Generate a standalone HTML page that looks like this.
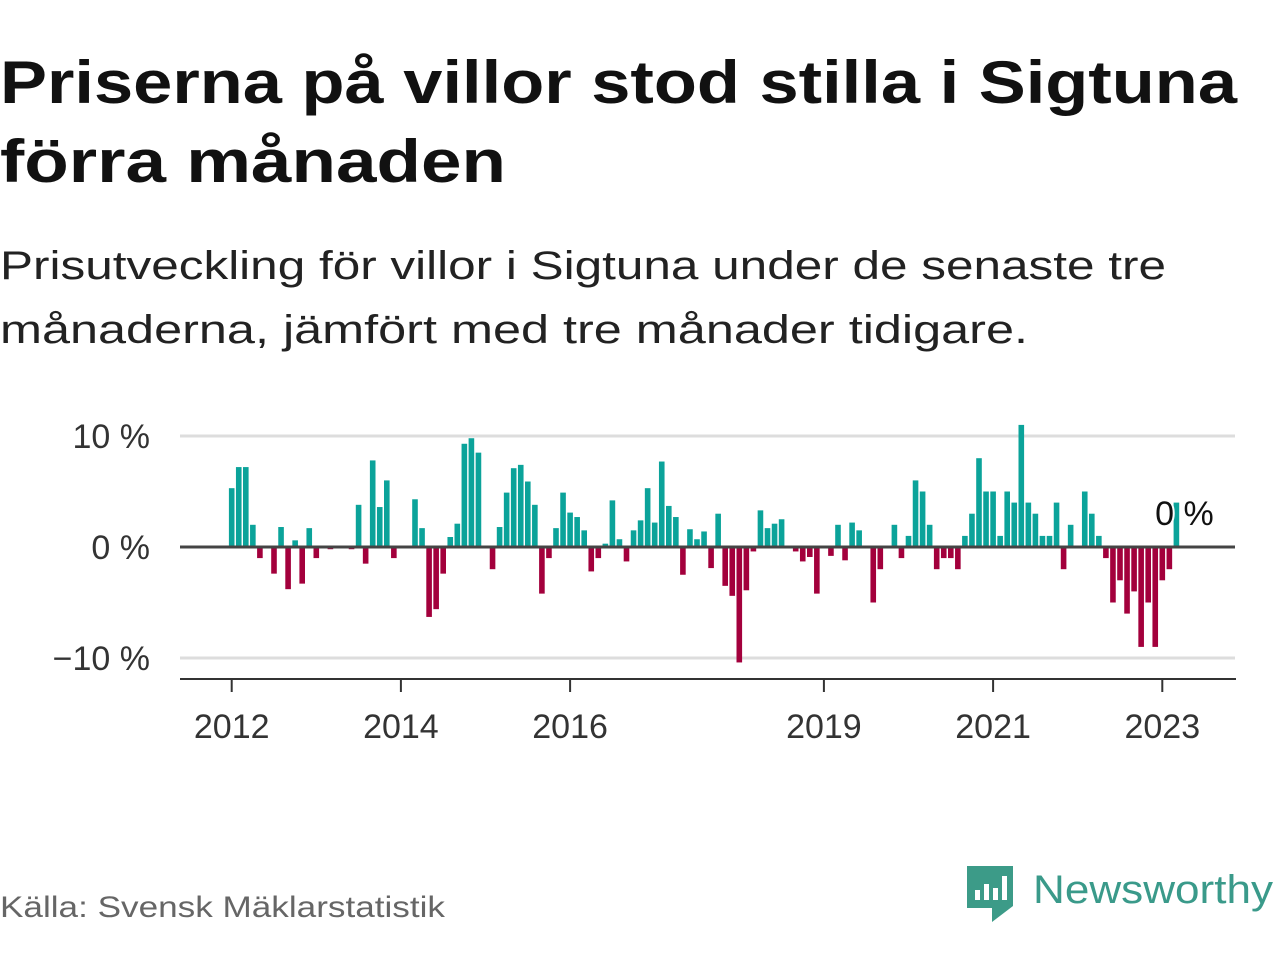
<!DOCTYPE html>
<html><head><meta charset="utf-8"><style>
html,body{margin:0;padding:0;background:#fff;}
svg{display:block;font-family:"Liberation Sans",sans-serif;}
</style></head><body>
<svg id="chart" width="1280" height="960" viewBox="0 0 1280 960">
<text x="0" y="103" font-size="60" font-weight="bold" fill="#111" textLength="1237" lengthAdjust="spacingAndGlyphs">Priserna på villor stod stilla i Sigtuna</text>
<text x="0" y="182" font-size="60" font-weight="bold" fill="#111" textLength="506" lengthAdjust="spacingAndGlyphs">förra månaden</text>
<text x="0" y="279" font-size="40" fill="#222" textLength="1166" lengthAdjust="spacingAndGlyphs">Prisutveckling för villor i Sigtuna under de senaste tre</text>
<text x="0" y="343" font-size="40" fill="#222" textLength="1028" lengthAdjust="spacingAndGlyphs">månaderna, jämfört med tre månader tidigare.</text>
<g id="grid"></g>
<g id="bars"></g>
<g id="axes"></g>
<text x="0" y="917" font-size="30" fill="#666" textLength="445" lengthAdjust="spacingAndGlyphs">Källa: Svensk Mäklarstatistik</text>
<g>
<path d="M967 866 H1013 V906 L992 922 L992 908 H967 Z" fill="#3c9b88"/>
<rect x="975" y="890" width="5" height="10" fill="#fff"/>
<rect x="984" y="884" width="5" height="16" fill="#fff"/>
<rect x="993" y="888" width="5" height="12" fill="#fff"/>
<rect x="1002" y="876" width="5" height="24" fill="#fff"/>
<text x="1033" y="903" font-size="40" fill="#3a9a8a" textLength="240" lengthAdjust="spacingAndGlyphs">Newsworthy</text>
</g>
</svg>
<script>
const startYear = 2012;
const values = [5.3,7.2,7.2,2.0,-1.0,0,-2.4,1.8,-3.8,0.6,-3.3,1.7,
-1.0,0,-0.2,0,0,-0.2,3.8,-1.5,7.8,3.6,6.0,-1.0,
0,0,4.3,1.7,-6.3,-5.6,-2.4,0.9,2.1,9.3,9.8,8.5,
0,-2.0,1.8,4.9,7.1,7.4,5.9,3.8,-4.2,-1.0,1.7,4.9,
3.1,2.7,1.5,-2.2,-1.0,0.3,4.2,0.7,-1.3,1.5,2.4,5.3,
2.2,7.7,3.7,2.7,-2.5,1.6,0.7,1.4,-1.9,3.0,-3.5,-4.4,
-10.4,-3.9,-0.4,3.3,1.7,2.1,2.5,0,-0.4,-1.3,-0.9,-4.2,
0,-0.8,2.0,-1.2,2.2,1.5,0,-5.0,-2.0,0,2.0,-1.0,
1.0,6.0,5.0,2.0,-2.0,-1.0,-1.0,-2.0,1.0,3.0,8.0,5.0,
5.0,1.0,5.0,4.0,11.0,4.0,3.0,1.0,1.0,4.0,-2.0,2.0,
0,5.0,3.0,1.0,-1.0,-5.0,-3.0,-6.0,-4.0,-9.0,-5.0,-9.0,
-3.0,-2.0,4.0];
const yTicks = [10, 0, -10];
const yTickLabels = ["10 %", "0 %", "\u221210 %"];
const xTickYears = [2012, 2014, 2016, 2019, 2021, 2023];
const lastLabel = "0 %";

const NS = "http://www.w3.org/2000/svg";
function mk(tag, attrs, parent){const e=document.createElementNS(NS,tag);for(const k in attrs)e.setAttribute(k,attrs[k]);parent.appendChild(e);return e;}
const x = m => 231.7 + 7.05*m;
const y = v => 547 - 11.1*v;
const grid=document.getElementById('grid'), bars=document.getElementById('bars'), axes=document.getElementById('axes');

yTicks.forEach((t,i)=>{
  if(t!==0){const l=mk('line',{x1:180,x2:1235,y1:y(t),y2:y(t),stroke:'#ddd','stroke-width':3},grid);
  
  }
  const tx=mk('text',{x:150,y:y(t)+12,'font-size':34,fill:'#333','text-anchor':'end'},axes);
  tx.textContent=yTickLabels[i];
  
  
});
values.forEach((v,m)=>{
  if(v===0)return;
  const r=mk('rect',{x:x(m)-2.8,width:5.6,y:Math.min(y(v),y(0)),height:Math.abs(y(v)-y(0)),fill:v>0?'#0ba39a':'#a3003c'},bars);
  
  
});
const zl=mk('line',{x1:180,x2:1235,y1:y(0),y2:y(0),stroke:'#444','stroke-width':3},axes);


const xa=mk('line',{x1:180,x2:1236,y1:679,y2:679,stroke:'#333','stroke-width':2},axes);


xTickYears.forEach(yr=>{
  const px=x((yr-startYear)*12);
  const tk=mk('line',{x1:px,x2:px,y1:679,y2:692,stroke:'#333','stroke-width':2},axes);
  
  
  const tx=mk('text',{x:px,y:738,'font-size':34,fill:'#333','text-anchor':'middle'},axes);
  tx.textContent=String(yr);
  
  
});
const lm=values.length-1;
const ll=mk('text',{x:x(lm)+8,y:525,'font-size':34,fill:'#111','text-anchor':'middle',stroke:'#fff','stroke-width':4,'paint-order':'stroke'},axes);
ll.textContent=lastLabel;


</script>
</body></html>
